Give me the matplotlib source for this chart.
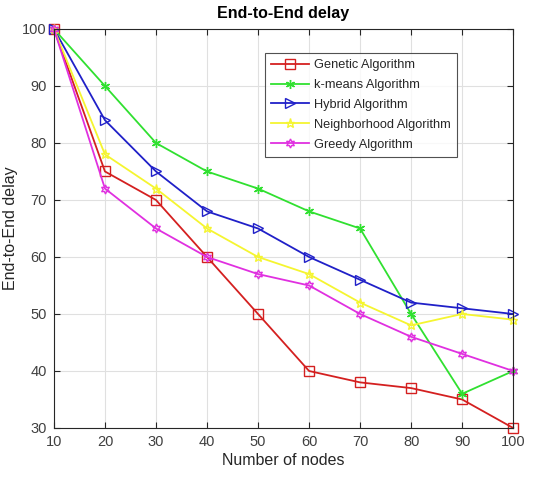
import matplotlib
matplotlib.use("Agg")
import matplotlib.pyplot as plt

plt.rcParams['font.family'] = ['Liberation Sans', 'DejaVu Sans']

nodes = [10, 20, 30, 40, 50, 60, 70, 80, 90, 100]
genetic = [100, 75, 70, 60, 50, 40, 38, 37, 35, 30]
kmeans = [100, 90, 80, 75, 72, 68, 65, 50, 36, 40]
hybrid = [100, 84, 75, 68, 65, 60, 56, 52, 51, 50]
neighborhood = [100, 78, 72, 65, 60, 57, 52, 48, 50, 49]
greedy = [100, 72, 65, 60, 57, 55, 50, 46, 43, 40]
labels = ['Genetic Algorithm', 'k-means Algorithm', 'Hybrid Algorithm',
          'Neighborhood Algorithm', 'Greedy Algorithm']

fig = plt.figure(figsize=(5.34, 4.79), dpi=100)
ax = fig.add_axes([0.101, 0.1065, 0.86, 0.833])

series = [
    (genetic, '#d42020', 's'),
    (kmeans, '#30e030', (6, 2, 0)),
    (hybrid, '#2020c8', '>'),
    (neighborhood, '#f5f530', '*'),
    (greedy, '#e030e0', (6, 1, 0)),
]
for (vals, col, mk), lab in zip(series, labels):
    ax.plot(nodes, vals, color=col, marker=mk, markersize=6.5, markerfacecolor='none',
            markeredgecolor=col, linewidth=1.3, label=lab, clip_on=False)

ax.set_xlim(10, 100)
ax.set_ylim(30, 100)
ax.set_xticks(nodes)
ax.set_yticks(range(30, 101, 10))
ax.grid(True, color='#e0e0e0', linewidth=0.8)
ax.tick_params(direction='in', length=4, labelsize=10.5, colors='#262626',
               labelcolor='#404040', top=True, right=True, pad=5)
for s in ax.spines.values():
    s.set_color('#262626')
    s.set_linewidth(0.8)
ax.set_xlabel('Number of nodes', fontsize=11.5, color='#262626', labelpad=3)
ax.set_ylabel('End-to-End delay', fontsize=11.5, color='#262626', labelpad=3)
ax.set_title('End-to-End delay', fontsize=11.5, fontweight='bold', pad=8)

leg = ax.legend(loc='upper left', bbox_to_anchor=(0.446, 0.955), fontsize=9.2,
                frameon=True, fancybox=False, edgecolor='#262626',
                handlelength=3.0, handletextpad=0.4, borderpad=0.45, labelspacing=0.62)
leg.get_frame().set_linewidth(0.8)
for t in leg.get_texts():
    t.set_color('#262626')

fig.savefig('out.png', dpi=100)
